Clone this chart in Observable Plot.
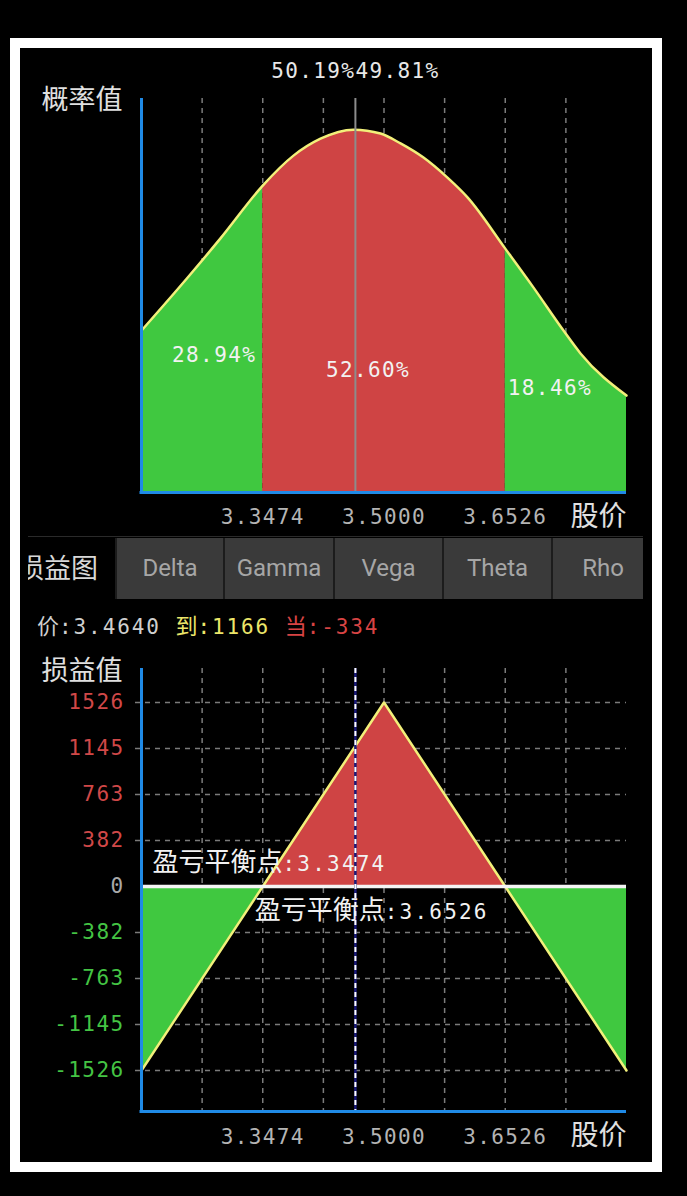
<!DOCTYPE html>
<html><head><meta charset="utf-8">
<script src="https://cdn.jsdelivr.net/npm/d3@7"></script>
<script src="https://cdn.jsdelivr.net/npm/@observablehq/plot@0.6"></script>
<style>
html,body{margin:0;padding:0;background:#000;}
#page{position:relative;width:687px;height:1196px;background:#000;overflow:hidden;}
#frame{position:absolute;left:10px;top:38px;width:632px;height:1114px;border:10px solid #fff;background:#000;}
.chart{position:absolute;left:20px;}
#tabbar{position:absolute;left:28px;top:536px;width:615px;height:62px;overflow:hidden;border-top:1px solid #2a2a2a;}
#tabsel{position:absolute;left:-11px;top:0;height:62px;line-height:60px;font-family:"Noto Sans CJK SC";font-size:27px;color:#d8d8d8;white-space:nowrap;}
.tab{position:absolute;top:1px;height:61px;line-height:60px;text-align:center;background:#3a3a3a;border-left:2px solid #1c1c1c;box-sizing:border-box;font-family:Roboto,"Noto Sans";font-size:24px;color:#a6a6a6;}
#info{position:absolute;left:37px;top:609px;font-size:22px;line-height:30px;white-space:nowrap;}
.cjk{font-family:"Noto Sans CJK SC";font-size:22px;}
.mono{font-family:"DejaVu Sans Mono";font-size:21px;letter-spacing:1.9px;}
</style></head>
<body><div id="page"><div id="frame"></div>
<div id="top" class="chart" style="top:48px"></div>
<div id="tabbar"></div>
<div id="info"></div>
<div id="bottom" class="chart" style="top:640px"></div>
</div>
<script>
// ---- data ----
const xDomain = [3.1948, 3.8052];
const xTicks = [3.3474, 3.5000, 3.6526];
const gridPrices = [3.2711, 3.3474, 3.4237, 3.5000, 3.5763, 3.6526, 3.7289];
const currentPrice = 3.4640;
const breakevens = [3.3474, 3.6526];
// probability density curve (relative units)
const densPrices = [3.1948, 3.2527, 3.2942, 3.3474, 3.3861, 3.4201, 3.4616, 3.4956, 3.5208, 3.5497, 3.5799, 3.6051, 3.6526, 3.6882, 3.7259, 3.7473, 3.8052];
const densValues = [0.411, 0.545, 0.645, 0.779, 0.855, 0.898, 0.921, 0.911, 0.886, 0.850, 0.799, 0.749, 0.619, 0.520, 0.411, 0.353, 0.246];
const regionLabels = ["28.94%", "52.60%", "18.46%"];
const splitLabels = ["50.19%", "49.81%"];
// profit & loss
const pnlPrices = [3.1948, 3.3474, 3.5000, 3.6526, 3.8052];
const pnlValues = [-1526, 0, 1526, 0, -1526];
const yTicks = [1526, 1145, 763, 382, 0, -382, -763, -1145, -1526];
const tabs = ["Delta", "Gamma", "Vega", "Theta", "Rho"];
const selectedTab = "损益图";
const infoPrice = "3.4640";
const infoExpiry = 1166;
const infoCurrent = -334;

// ---- styles ----
const RED = "#cf4444", GREEN = "#40c840", YELLOW = "#f2f07a", BLUE = "#1f8ae6";
const MONO = "DejaVu Sans Mono", CJK = "Noto Sans CJK SC", MIXED = "Noto Sans CJK SC, DejaVu Sans Mono";
const fmt = d => d.toFixed(4);
const NS = "http://www.w3.org/2000/svg";

function spaceMono(svg, ls) {
  svg.querySelectorAll(`g[font-family="${MONO}"] text`).forEach(t => t.setAttribute("letter-spacing", ls));
}

const dens = densPrices.map((x, i) => ({x, y: densValues[i]}));
const lo = xTicks[0], hi = xTicks[2];
const leftR = dens.filter(d => d.x <= lo);
const midR = dens.filter(d => d.x >= lo && d.x <= hi);
const rightR = dens.filter(d => d.x >= hi);
const regionMid = [(xDomain[0] + lo) / 2, (lo + hi) / 2, (hi + xDomain[1]) / 2];
const labelY = [0.348, 0.31, 0.264];
const labelDx = [12, -16, -16];

const topPlot = Plot.plot({
  width: 632, height: 490,
  marginLeft: 121, marginRight: 26, marginTop: 50, marginBottom: 46,
  x: {domain: xDomain, axis: null},
  y: {domain: [0, 1], axis: null},
  style: {background: "transparent", maxWidth: "none", overflow: "visible"},
  marks: [
    Plot.ruleX(gridPrices, {stroke: "#9a9a9a", strokeOpacity: 0.8, strokeWidth: 1.5, strokeDasharray: "5,5"}),
    Plot.areaY(leftR, {x: "x", y: "y", fill: GREEN, curve: "monotone-x"}),
    Plot.areaY(midR, {x: "x", y: "y", fill: RED, curve: "monotone-x"}),
    Plot.areaY(rightR, {x: "x", y: "y", fill: GREEN, curve: "monotone-x"}),
    Plot.lineY(dens, {x: "x", y: "y", stroke: YELLOW, strokeWidth: 2.5, curve: "monotone-x"}),
    Plot.ruleX([currentPrice], {stroke: "#8c8c8c", strokeWidth: 2}),
    Plot.ruleX([xDomain[0]], {stroke: BLUE, strokeWidth: 3}),
    Plot.ruleY([0], {stroke: BLUE, strokeWidth: 3, insetLeft: -1.5}),
    ...regionLabels.map((lab, i) => Plot.text([lab], {x: [regionMid[i]], y: [labelY[i]], dx: labelDx[i],
      fill: "#f2f2f2", fontFamily: MONO, fontSize: 21})),
    Plot.text([splitLabels[0]], {x: [currentPrice], frameAnchor: "top", lineAnchor: "middle", dy: -27, textAnchor: "end", fill: "#e8e8e8", fontFamily: MONO, fontSize: 21}),
    Plot.text([splitLabels[1]], {x: [currentPrice], frameAnchor: "top", lineAnchor: "middle", dy: -27, textAnchor: "start", fill: "#e8e8e8", fontFamily: MONO, fontSize: 21}),
    Plot.text(xTicks, {x: d => d, text: fmt, frameAnchor: "bottom", lineAnchor: "middle", dy: 25, fill: "#b4b4b4", fontFamily: MONO, fontSize: 21}),
    Plot.text(["股价"], {frameAnchor: "bottom-right", lineAnchor: "middle", textAnchor: "end", dy: 25, fill: "#e0e0e0", fontFamily: CJK, fontSize: 28}),
    Plot.text(["概率值"], {frameAnchor: "top-left", lineAnchor: "middle", textAnchor: "end", dx: -19, dy: 2, fill: "#e0e0e0", fontFamily: CJK, fontSize: 27})
  ]
});
spaceMono(topPlot, "1.4px");
document.getElementById("top").appendChild(topPlot);

// tabs
const bar = document.getElementById("tabbar");
const sel = document.createElement("div");
sel.id = "tabsel"; sel.textContent = selectedTab; bar.appendChild(sel);
const tabEdges = [87, 195, 305, 414, 523, 625];
tabs.forEach((t, i) => {
  const el = document.createElement("div");
  el.className = "tab"; el.textContent = t;
  el.style.left = tabEdges[i] + "px";
  el.style.width = (tabEdges[i + 1] - tabEdges[i]) + "px";
  bar.appendChild(el);
});

// info line
document.getElementById("info").innerHTML =
  `<span class="cjk" style="color:#cfcfcf">价</span><span class="mono" style="color:#cfcfcf">:${infoPrice} </span>` +
  `<span class="cjk" style="color:#ece66a">到</span><span class="mono" style="color:#ece66a">:${infoExpiry} </span>` +
  `<span class="cjk" style="color:#d84444">当</span><span class="mono" style="color:#d84444">:${infoCurrent}</span>`;

// bottom chart
const pnl = pnlPrices.map((x, i) => ({x, y: pnlValues[i]}));
const leftP = pnl.filter(d => d.x <= breakevens[0]);
const midP = pnl.filter(d => d.x >= breakevens[0] && d.x <= breakevens[1]);
const rightP = pnl.filter(d => d.x >= breakevens[1]);
const yDomain = [-1866, 1808];
const tickColor = d => d > 0 ? "#d04848" : d < 0 ? "#44c444" : "#a8a8a8";

const botPlot = Plot.plot({
  width: 632, height: 520,
  marginLeft: 121, marginRight: 26, marginTop: 28, marginBottom: 49,
  x: {domain: xDomain, axis: null},
  y: {domain: yDomain, axis: null},
  style: {background: "transparent", maxWidth: "none", overflow: "visible"},
  marks: [
    Plot.ruleX(gridPrices, {stroke: "#9a9a9a", strokeOpacity: 0.8, strokeWidth: 1.5, strokeDasharray: "5,5"}),
    Plot.ruleY(yTicks.filter(d => d !== 0), {y: d => d, stroke: "#9a9a9a", strokeOpacity: 0.8, strokeWidth: 1.5, strokeDasharray: "5,5", insetLeft: -6}),
    Plot.areaY(leftP, {x: "x", y1: 0, y2: "y", fill: GREEN}),
    Plot.areaY(midP, {x: "x", y1: 0, y2: "y", fill: RED}),
    Plot.areaY(rightP, {x: "x", y1: 0, y2: "y", fill: GREEN}),
    Plot.lineY(pnl, {x: "x", y: "y", stroke: YELLOW, strokeWidth: 2.5}),
    Plot.ruleY([0], {stroke: "#f4f4f4", strokeWidth: 3.5}),
    Plot.ruleX([currentPrice], {stroke: "#1a1a7a", strokeWidth: 2.5}),
    Plot.ruleX([currentPrice], {stroke: "#ffffff", strokeWidth: 2, strokeDasharray: "5,4"}),
    Plot.ruleX([xDomain[0]], {stroke: BLUE, strokeWidth: 3}),
    Plot.ruleY([yDomain[0]], {stroke: BLUE, strokeWidth: 3, insetLeft: -1.5}),
    Plot.text(yTicks, {y: d => d, text: d => String(d), frameAnchor: "left", textAnchor: "end", dx: -17,
      fill: tickColor, fontFamily: MONO, fontSize: 21}),
    Plot.text([breakevens[0]], {x: [xDomain[0]], y: [0], dx: 11, dy: -24, textAnchor: "start",
      text: d => "盈亏平衡点:" + fmt(d), fill: "#f2f2f2", fontFamily: MIXED, fontSize: 26}),
    Plot.text([breakevens[1]], {x: [breakevens[0]], y: [0], dx: -8, dy: 24, textAnchor: "start",
      text: d => "盈亏平衡点:" + fmt(d), fill: "#f2f2f2", fontFamily: MIXED, fontSize: 26}),
    Plot.text(xTicks, {x: d => d, text: fmt, frameAnchor: "bottom", lineAnchor: "middle", dy: 26, fill: "#b4b4b4", fontFamily: MONO, fontSize: 21}),
    Plot.text(["股价"], {frameAnchor: "bottom-right", lineAnchor: "middle", textAnchor: "end", dy: 25, fill: "#e0e0e0", fontFamily: CJK, fontSize: 28}),
    Plot.text(["损益值"], {frameAnchor: "top-left", lineAnchor: "middle", textAnchor: "end", dx: -19, dy: 3, fill: "#e0e0e0", fontFamily: CJK, fontSize: 27})
  ]
});
spaceMono(botPlot, "1.4px");
// breakeven labels: Chinese part and number part in their own fonts
botPlot.querySelectorAll(`g[font-family="${MIXED}"] text`).forEach(t => {
  const s = t.textContent, i = s.indexOf(":");
  t.textContent = "";
  const a = document.createElementNS(NS, "tspan");
  a.textContent = s.slice(0, i); a.setAttribute("font-family", CJK); a.setAttribute("font-size", 26);
  const b = document.createElementNS(NS, "tspan");
  b.textContent = s.slice(i); b.setAttribute("font-family", MONO); b.setAttribute("font-size", 21); b.setAttribute("letter-spacing", "2.2px");
  t.appendChild(a); t.appendChild(b);
});
document.getElementById("bottom").appendChild(botPlot);
</script></body></html>
